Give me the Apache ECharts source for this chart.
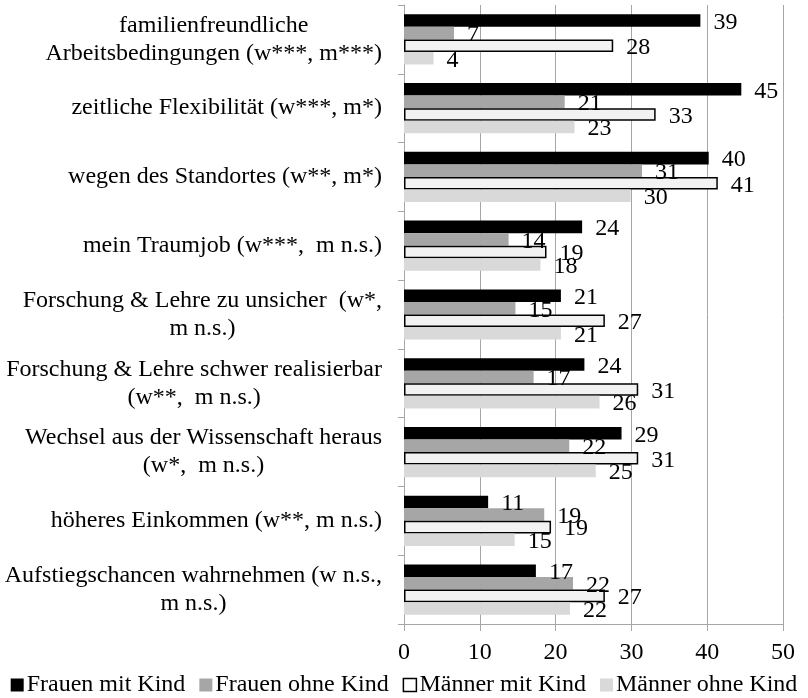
<!DOCTYPE html>
<html>
<head>
<meta charset="utf-8">
<script src="https://cdn.jsdelivr.net/npm/echarts@6/dist/echarts.min.js"></script>
<style>html,body{margin:0;padding:0;background:#fff}#c{width:808px;height:698px}</style>
</head>
<body>
<div id="c"></div>
<script>
const categories = [
  "familienfreundliche\nArbeitsbedingungen (w***, m***)",
  "zeitliche Flexibilität (w***, m*)",
  "wegen des Standortes (w**, m*)",
  "mein Traumjob (w***,  m n.s.)",
  "Forschung & Lehre zu unsicher  (w*,\nm n.s.)",
  "Forschung & Lehre schwer realisierbar\n(w**,  m n.s.)",
  "Wechsel aus der Wissenschaft heraus\n(w*,  m n.s.)",
  "höheres Einkommen (w**, m n.s.)",
  "Aufstiegschancen wahrnehmen (w n.s.,\nm n.s.)"
];
const seriesNames = ["Frauen mit Kind", "Frauen ohne Kind", "Männer mit Kind", "Männer ohne Kind"];
const frauenMitKind  = [39.1, 44.5, 40.2, 23.5, 20.7, 23.8, 28.7, 11.1, 17.4];
const frauenOhneKind = [6.6, 21.2, 31.4, 13.8, 14.7, 17.1, 21.8, 18.5, 22.3];
const maennerMitKind = [27.6, 33.2, 41.4, 18.8, 26.5, 30.9, 30.9, 19.4, 26.5];
const maennerOhneKind= [3.9, 22.5, 29.9, 18.0, 20.7, 25.8, 25.3, 14.6, 21.9];
const xTicks = [0, 10, 20, 30, 40, 50];

const FONT = '"Liberation Serif", "Times New Roman", serif';
const FS = 24;
const chart = echarts.init(document.getElementById('c'), null, {renderer: 'canvas'});
const styles = [
  {color: '#000000'},
  {color: '#a6a6a6'},
  {color: '#f2f2f2', borderColor: '#000000', borderWidth: 1.5},
  {color: '#d9d9d9'}
];
const dataSets = [frauenMitKind, frauenOhneKind, maennerMitKind, maennerOhneKind];
const series = seriesNames.map((n, i) => ({
  name: n,
  type: 'bar',
  data: dataSets[i],
  barGap: '0%',
  barCategoryGap: '27%',
  itemStyle: styles[i],
  label: {
    show: true, position: 'right', distance: 13, offset: [0, 2],
    formatter: p => Math.round(p.value),
    color: '#000', fontFamily: FONT, fontSize: FS
  },
  emphasis: {disabled: true},
  animation: false
}));
chart.setOption({
  animation: false,
  grid: {left: 404, right: 25, top: 5, bottom: 74, containLabel: false},
  xAxis: {
    type: 'value', min: xTicks[0], max: xTicks[xTicks.length-1], interval: xTicks[1]-xTicks[0],
    axisLine: {show: true, lineStyle: {color: '#a6a6a6', width: 1}},
    axisTick: {show: true, length: 7, lineStyle: {color: '#a6a6a6'}},
    splitLine: {show: true, lineStyle: {color: '#a6a6a6', width: 1}},
    axisLabel: {color: '#000', fontFamily: FONT, fontSize: FS, margin: 17}
  },
  yAxis: {
    type: 'category', data: categories, inverse: true,
    axisLine: {show: true, lineStyle: {color: '#a6a6a6', width: 1}},
    axisTick: {show: true, length: 6, lineStyle: {color: '#a6a6a6'}},
    axisLabel: {
      margin: 22, align: 'right',
      formatter: v => v.split('\n').map(l => '{c|' + l + '}').join('\n'),
      rich: {c: {align: 'center', color: '#000', fontFamily: FONT, fontSize: FS, lineHeight: 28}}
    }
  },
  legend: {
    top: 673, left: 'center', itemWidth: 13, itemHeight: 13, itemGap: 14, padding: 0,
    icon: 'rect',
    textStyle: {color: '#000', fontFamily: FONT, fontSize: FS, padding: [0,0,0,-2]},
    data: seriesNames.map((n, i) => ({name: n, itemStyle: i === 2 ? {color: '#fff', borderColor: '#000', borderWidth: 1.5} : {}}))
  },
  series: series
});
</script>
</body>
</html>
